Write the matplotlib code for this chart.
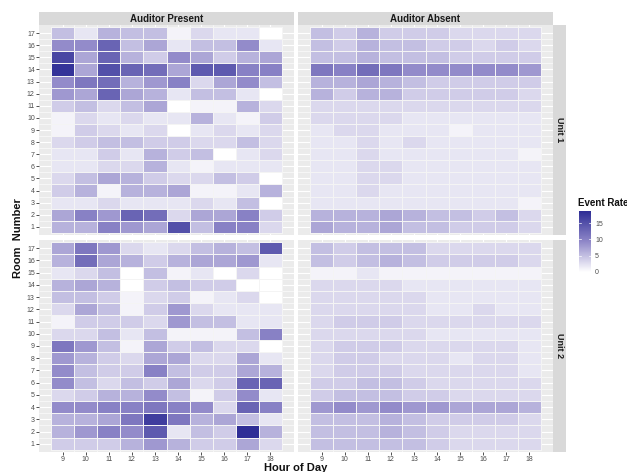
import numpy as np
import matplotlib
matplotlib.use('Agg')
import matplotlib.pyplot as plt
from matplotlib.colors import LinearSegmentedColormap

plt.rcParams['font.family'] = ['Liberation Sans', 'DejaVu Sans']

# データ
hours = [9, 10, 11, 12, 13, 14, 15, 16, 17, 18]
rooms = list(range(1, 18))
conditions = ['Auditor Present', 'Auditor Absent']
units = ['Unit 1', 'Unit 2']

# 行は部屋17 → 部屋1 の順
unit1_present = [
    [5, 2, 6, 5, 5, 1, 3, 2, 2, 0],
    [9, 9, 13, 5, 7, 2, 5, 5, 9, 2],
    [16, 7, 13, 6, 4, 9, 7, 4, 6, 7],
    [18, 7, 15, 13, 12, 7, 14, 14, 10, 10],
    [9, 11, 12, 6, 8, 10, 3, 7, 9, 5],
    [8, 7, 13, 7, 6, 2, 5, 5, 2, 0],
    [4, 5, 3, 5, 7, 0, 1, 1, 6, 3],
    [1, 3, 2, 3, 2, 2, 6, 2, 1, 4],
    [1, 4, 3, 2, 3, 0, 2, 3, 2, 3],
    [3, 4, 5, 5, 4, 4, 3, 3, 5, 3],
    [2, 2, 4, 2, 6, 4, 5, 0, 2, 3],
    [2, 2, 3, 3, 6, 2, 1, 2, 2, 2],
    [3, 5, 7, 6, 4, 3, 3, 5, 4, 0],
    [4, 6, 1, 6, 6, 7, 1, 1, 2, 6],
    [2, 2, 3, 2, 2, 2, 3, 2, 5, 0],
    [7, 10, 8, 13, 12, 3, 7, 7, 10, 4],
    [6, 6, 10, 8, 7, 15, 5, 10, 10, 3],
]
unit2_present = [
    [7, 11, 8, 3, 2, 3, 5, 6, 5, 14],
    [6, 12, 7, 6, 4, 6, 7, 7, 8, 2],
    [2, 3, 5, 0, 5, 1, 2, 0, 3, 0],
    [6, 7, 6, 0, 4, 5, 4, 4, 0, 0],
    [5, 5, 4, 1, 3, 4, 1, 2, 3, 0],
    [3, 7, 5, 1, 4, 8, 3, 2, 2, 2],
    [1, 4, 4, 4, 3, 8, 5, 5, 2, 2],
    [3, 3, 5, 2, 5, 1, 1, 1, 5, 10],
    [11, 8, 5, 1, 7, 4, 5, 3, 3, 0],
    [8, 6, 4, 3, 7, 7, 3, 3, 7, 2],
    [9, 5, 4, 4, 10, 5, 4, 4, 7, 6],
    [9, 5, 3, 5, 4, 7, 3, 4, 13, 13],
    [3, 4, 6, 6, 9, 5, 1, 4, 9, 2],
    [9, 9, 10, 10, 11, 10, 9, 3, 13, 10],
    [6, 6, 7, 11, 17, 11, 6, 7, 5, 2],
    [6, 8, 10, 9, 14, 2, 5, 4, 18.5, 6],
    [4, 4, 4, 6, 8, 6, 4, 4, 7, 3],
]
unit1_absent = [
    [5, 4, 6, 4, 4, 4, 3, 3, 3, 3],
    [5, 4, 6, 5, 5, 4, 4, 3, 4, 3],
    [5, 5, 6, 5, 5, 5, 4, 4, 4, 4],
    [11, 10, 12, 11, 9, 9, 9, 9, 9, 8],
    [6, 6, 7, 6, 5, 4, 4, 4, 4, 4],
    [6, 4, 6, 6, 4, 4, 4, 4, 4, 3],
    [3, 3, 3, 3, 3, 3, 3, 3, 3, 3],
    [3, 3, 3, 3, 2, 2, 2, 2, 2, 2],
    [2, 3, 3, 2, 2, 2, 1, 2, 2, 2],
    [2, 2, 3, 2, 3, 2, 2, 2, 2, 2],
    [2, 2, 3, 2, 2, 2, 2, 2, 2, 1],
    [2, 2, 3, 3, 2, 2, 2, 2, 2, 2],
    [2, 2, 3, 3, 2, 2, 2, 2, 2, 2],
    [2, 2, 3, 2, 2, 2, 2, 2, 2, 2],
    [2, 2, 2, 2, 2, 2, 2, 2, 2, 1],
    [6, 6, 6, 7, 6, 5, 5, 4, 5, 3],
    [7, 6, 6, 7, 5, 5, 4, 4, 4, 3],
]
unit2_absent = [
    [5, 4, 5, 5, 5, 3, 3, 3, 3, 3],
    [5, 4, 5, 6, 5, 4, 4, 4, 4, 3],
    [1, 1, 2, 1, 1, 1, 1, 1, 1, 1],
    [3, 3, 3, 3, 2, 2, 2, 2, 2, 2],
    [3, 3, 3, 3, 3, 2, 2, 2, 2, 2],
    [3, 3, 3, 3, 3, 2, 2, 3, 2, 2],
    [3, 4, 4, 4, 3, 3, 3, 3, 3, 3],
    [3, 3, 3, 3, 3, 2, 2, 2, 2, 2],
    [3, 4, 4, 4, 3, 3, 3, 3, 3, 2],
    [3, 4, 4, 3, 3, 3, 2, 3, 3, 2],
    [3, 4, 4, 4, 3, 3, 3, 3, 3, 2],
    [4, 4, 5, 5, 4, 3, 3, 3, 3, 3],
    [4, 5, 5, 5, 4, 4, 3, 3, 3, 3],
    [8, 9, 8, 9, 8, 8, 7, 7, 7, 6],
    [5, 5, 5, 6, 5, 4, 4, 4, 4, 3],
    [5, 5, 5, 6, 5, 4, 3, 3, 3, 3],
    [5, 5, 5, 5, 5, 4, 3, 3, 3, 3],
]

panels = {
    ('Unit 1', 'Auditor Present'): unit1_present,
    ('Unit 1', 'Auditor Absent'): unit1_absent,
    ('Unit 2', 'Auditor Present'): unit2_present,
    ('Unit 2', 'Auditor Absent'): unit2_absent,
}

cmap = LinearSegmentedColormap.from_list(
    'evt', [(0, '#ffffff'), (0.5, '#8f87c8'), (1, '#2d2d95')])
vmax = 18.7

W, H = 627, 472
fig = plt.figure(figsize=(W / 100, H / 100), dpi=100)
fig.patch.set_facecolor('white')

# 画素座標でパネル配置
col_x = [39, 298]
pan_w = 255
row_y = [(25, 235), (240, 452)]

x_edges = np.array(hours + [hours[-1] + 1]) - 0.5
y_edges = np.array(rooms + [rooms[-1] + 1]) - 0.5

mesh = None
for ri, unit in enumerate(units):
    for ci, cond in enumerate(conditions):
        top, bot = row_y[ri]
        ax = fig.add_axes([col_x[ci] / W, 1 - bot / H, pan_w / W, (bot - top) / H])
        ax.set_facecolor('#EBEBEB')
        vals = np.array(panels[(unit, cond)])[::-1]
        mesh = ax.pcolormesh(x_edges, y_edges, vals, cmap=cmap, vmin=0, vmax=vmax,
                             edgecolors='#f4f4f4', linewidth=0.5, zorder=2)
        ax.set_xlim(7.98, 19.02)
        ax.set_ylim(0.33, 17.67)
        ax.set_xticks(hours)
        ax.set_yticks(rooms)
        ax.set_xticks(np.array(hours[:-1]) + 0.5, minor=True)
        ax.set_yticks(np.array(rooms[:-1]) + 0.5, minor=True)
        ax.grid(True, which='major', color='white', linewidth=0.8, zorder=0)
        ax.grid(True, which='minor', color='white', linewidth=0.4, zorder=0)
        ax.set_axisbelow(True)
        for s in ax.spines.values():
            s.set_visible(False)
        ax.tick_params(which='minor', length=0)
        ax.tick_params(which='major', length=2, width=0.6, color='#333333',
                       labelsize=5, labelcolor='#4d4d4d', pad=1)
        if ci == 1:
            ax.set_yticklabels([])
            ax.tick_params(axis='y', length=0)
        if ri == 0:
            ax.set_xticklabels([])
            ax.tick_params(axis='x', length=0)

        # ストリップ
        if ri == 0:
            sax = fig.add_axes([col_x[ci] / W, 1 - 25 / H, pan_w / W, 13 / H])
            sax.set_facecolor('#D9D9D9')
            sax.set_xticks([]); sax.set_yticks([])
            for s in sax.spines.values():
                s.set_visible(False)
            sax.text(0.5, 0.5, cond, ha='center', va='center', fontsize=7,
                     fontweight='bold', color='#1a1a1a', transform=sax.transAxes)
        if ci == 1:
            sax = fig.add_axes([553 / W, 1 - bot / H, 13 / W, (bot - top) / H])
            sax.set_facecolor('#D9D9D9')
            sax.set_xticks([]); sax.set_yticks([])
            for s in sax.spines.values():
                s.set_visible(False)
            sax.text(0.5, 0.5, unit, ha='center', va='center', fontsize=6.5,
                     fontweight='bold', color='#1a1a1a', rotation=-90,
                     transform=sax.transAxes)

# 軸タイトル
fig.text(18 / W, 1 - 238 / H, 'Room  Number', rotation=90, ha='center', va='center',
         fontsize=8, fontweight='bold', color='#111111')
fig.text(296 / W, 1 - 463 / H, 'Hour of Day', ha='center', va='top',
         fontsize=8, fontweight='bold', color='#111111')

# カラーバー
cax = fig.add_axes([579 / W, 1 - 272 / H, 12 / W, 61 / H])
cb = fig.colorbar(mesh, cax=cax, ticks=[0, 5, 10, 15])
cb.outline.set_visible(False)
cax.tick_params(length=0, labelsize=5, labelcolor='#4d4d4d', pad=3)
for t in [0, 5, 10, 15]:
    cax.plot([0, 0.2], [t, t], color='white', linewidth=0.5, transform=cax.get_yaxis_transform())
    cax.plot([0.8, 1], [t, t], color='white', linewidth=0.5, transform=cax.get_yaxis_transform())
fig.text(578 / W, 1 - 203 / H, 'Event Rate', ha='left', va='center',
         fontsize=7, fontweight='bold', color='#111111')

fig.savefig('out.png', dpi=100, facecolor='white')
